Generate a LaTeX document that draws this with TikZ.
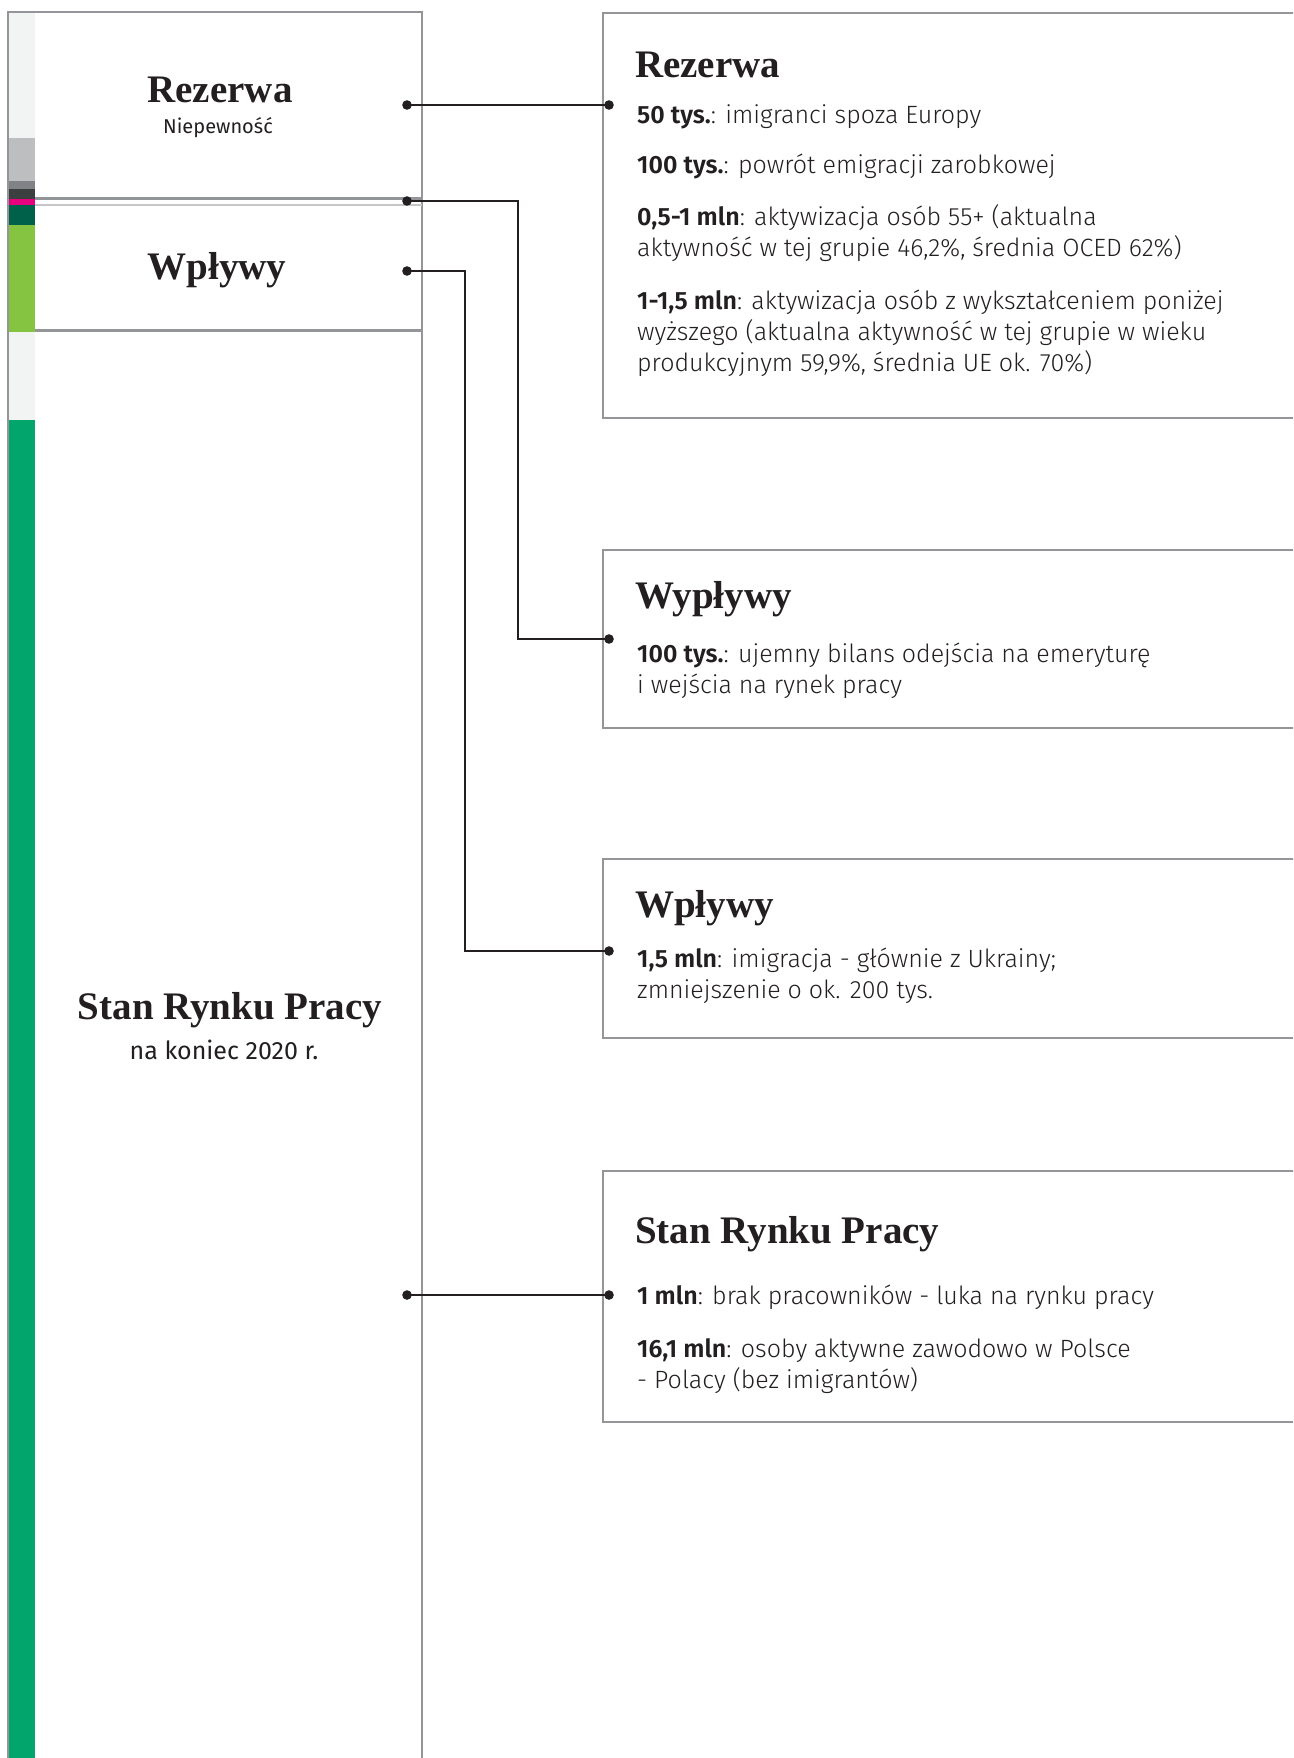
\documentclass[tikz,border=0pt]{standalone}
\usepackage{fontspec}
\setmainfont{Fira Sans}[UprightFont=* Light, BoldFont=* SemiBold]
\newfontfamily\subfont{Fira Sans}
\newfontfamily\headfont{Liberation Serif}[UprightFont=* Bold]

\definecolor{barlight}{HTML}{F2F4F3}
\definecolor{barmid}{HTML}{BCBEC0}
\definecolor{bargray}{HTML}{808285}
\definecolor{bardark}{HTML}{3C3F3F}
\definecolor{barpink}{HTML}{E6007E}
\definecolor{bardeep}{HTML}{00614A}
\definecolor{barlime}{HTML}{84C441}
\definecolor{bargreen}{HTML}{02A66D}
\definecolor{framegray}{HTML}{939598}
\definecolor{framelight}{HTML}{C4C6C8}
\definecolor{ink}{HTML}{231F20}

\begin{document}
\begin{tikzpicture}[x=1pt, y=-1pt,
  frame/.style={draw=framegray, line width=2.2pt},
  infobox/.style={draw=framegray, line width=2.2pt, rectangle, anchor=north west,
    minimum width=760pt, inner sep=0pt},
  conn/.style={draw=ink, line width=2.2pt},
  dot/.style={fill=ink},
  bigtitle/.style={font=\fontsize{39}{42}\headfont, text=ink, inner sep=0pt, anchor=base},
  subtitle/.style={font=\fontsize{20}{24}\subfont, text=ink, inner sep=0pt, anchor=base},
  boxtitle/.style={font=\fontsize{39}{42}\headfont, text=ink, inner sep=0pt, anchor=base west},
  body/.style={font=\fontsize{25}{30}\selectfont, text=ink, inner sep=0pt, anchor=base west},
]
\useasboundingbox (0,0) rectangle (1293,1758);
\clip (0,0) rectangle (1293,1758);
\fill[white] (0,0) rectangle (1293,1758);

% stacked colour bar on the left
\fill[barlight]  (9,12)  rectangle (35,138);
\fill[barmid]    (9,138) rectangle (35,181);
\fill[bargray]   (9,181) rectangle (35,189);
\fill[bardark]   (9,189) rectangle (35,199);
\fill[barpink]   (9,199) rectangle (35,205);
\fill[bardeep]   (9,205) rectangle (35,225);
\fill[barlime]   (9,225) rectangle (35,332);
\fill[barlight]  (9,332) rectangle (35,420);
\fill[bargreen]  (9,420) rectangle (35,1770);

% left column: sections
\path (35,12) node[anchor=north west, minimum width=387pt, minimum height=186pt, inner sep=0pt] (secR) {};
\path (35,205) node[anchor=north west, minimum width=387pt, minimum height=125pt, inner sep=0pt] (secW) {};
\path (35,330) node[anchor=north west, minimum width=387pt, minimum height=1440pt, inner sep=0pt] (secS) {};

\draw[frame] (8,1770) -- (8,12) -- (422,12) -- (422,1770);
\draw[frame] (secR.south west) -- (secR.south east);
\draw[draw=framelight, line width=2.2pt] (secW.north west) -- (secW.north east);
\draw[frame] (secW.south west) -- (secW.south east);

\node[bigtitle] (tR) at (220,103) {Rezerwa};
\node[subtitle] (tRs) at (218,133) {Niepewność};
\node[bigtitle] (tW) at (217,279) {Wpływy};
\node[bigtitle] (tS) at (230,1019) {Stan Rynku Pracy};
\node[subtitle, font=\fontsize{25}{28}\subfont] (tSs) at (224,1059) {na koniec 2020 r.};

% right column: boxes
\node[infobox, minimum height=405pt] (boxR) at (602,12) {};
\node[infobox, minimum height=178pt] (boxO) at (602,549) {};
\node[infobox, minimum height=179pt] (boxI) at (602,858) {};
\node[infobox, minimum height=251pt] (boxS) at (602,1170) {};

\node[boxtitle] (hR) at (635,78) {Rezerwa};
\node[body] (r1) at (637,124) {\textbf{50 tys.}: imigranci spoza Europy};
\node[body] (r2) at (637,173) {\textbf{100 tys.}: powrót emigracji zarobkowej};
\node[body] (r3) at (637,225) {\textbf{0,5-1 mln}: aktywizacja osób 55+ (aktualna};
\node[body] (r4) at (637,256) {aktywność w tej grupie 46,2\%, średnia OCED 62\%)};
\node[body] (r5) at (637,309) {\textbf{1-1,5 mln}: aktywizacja osób z wykształceniem poniżej};
\node[body] (r6) at (637,340) {wyższego (aktualna aktywność w tej grupie w wieku};
\node[body] (r7) at (637,371) {produkcyjnym 59,9\%, średnia UE ok. 70\%)};

\node[boxtitle] (hO) at (635,608) {Wypływy};
\node[body] (o1) at (637,662) {\textbf{100 tys.}: ujemny bilans odejścia na emeryturę};
\node[body] (o2) at (637,693) {i wejścia na rynek pracy};

\node[boxtitle] (hI) at (635,917) {Wpływy};
\node[body] (i1) at (637,967) {\textbf{1,5 mln}: imigracja - głównie z Ukrainy;};
\node[body] (i2) at (637,998) {zmniejszenie o ok. 200 tys.};

\node[boxtitle] (hS) at (635,1243) {Stan Rynku Pracy};
\node[body] (s1) at (637,1304) {\textbf{1 mln}: brak pracowników - luka na rynku pracy};
\node[body] (s2) at (637,1357) {\textbf{16,1 mln}: osoby aktywne zawodowo w Polsce};
\node[body] (s3) at (637,1388) {- Polacy (bez imigrantów)};

% connector end points
\coordinate (aR) at (407,105);
\coordinate (bR) at (609,105);
\coordinate (aO) at (407,201);
\coordinate (bO) at (609,639);
\coordinate (aI) at (407,271);
\coordinate (bI) at (609,951);
\coordinate (aS) at (407,1295);
\coordinate (bS) at (609,1295);

\draw[conn] (aR) -- (bR);
\draw[conn] (aO) -- ++(111,0) |- (bO);
\draw[conn] (aI) -- ++(58,0) |- (bI);
\draw[conn] (aS) -- (bS);

\foreach \p in {aR,bR,aO,bO,aI,bI,aS,bS}
  \fill[dot] (\p) circle (4.8pt);
\end{tikzpicture}
\end{document}
